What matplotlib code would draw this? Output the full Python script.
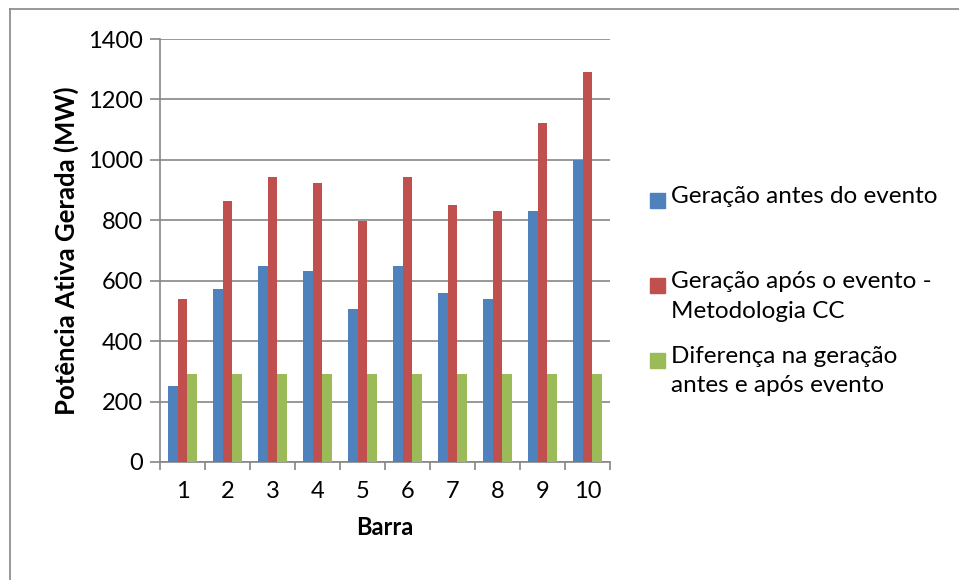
import numpy as np
import matplotlib.pyplot as plt
from matplotlib.patches import Rectangle
from matplotlib.lines import Line2D

plt.rcParams['font.family'] = ['Lato', 'DejaVu Sans']

barras = ['1', '2', '3', '4', '5', '6', '7', '8', '9', '10']
antes = [250, 574, 650, 633, 508, 650, 560, 540, 830, 1000]
apos = [541, 863, 942, 923, 798, 942, 852, 831, 1121, 1292]
diferenca = [290, 290, 290, 290, 290, 290, 290, 290, 290, 290]

nomes = ['Geração antes do evento',
         'Geração após o evento -\nMetodologia CC',
         'Diferença na geração\nantes e após evento']
cores = ['#4F81BD', '#C0504D', '#9BBB59']

fs = 17

fig = plt.figure(figsize=(9.59, 5.8), dpi=100)
ax = fig.add_axes([160 / 959, 1 - 462 / 580, 450 / 959, 423 / 580])

x = np.arange(1, len(barras) + 1)
w = 0.215
for i, (vals, cor) in enumerate(zip([antes, apos, diferenca], cores)):
    ax.bar(x + (i - 1) * w, vals, w, color=cor, zorder=3)

ax.set_xlim(0.5, 10.5)
ax.set_ylim(0, 1400)
ax.set_yticks(range(0, 1401, 200))
ax.yaxis.grid(True, color='#868686', linewidth=1.2, zorder=0)

# category labels in the middle, tick marks between groups
ax.set_xticks(x)
ax.set_xticklabels(barras)
ax.set_xticks(np.arange(0.5, 11, 1), minor=True)
ax.tick_params(axis='x', which='major', length=0, pad=14, labelsize=fs)
ax.tick_params(axis='x', which='minor', length=6, width=1.2, color='#868686')
ax.tick_params(axis='y', length=7, width=1.2, color='#868686', labelsize=fs, pad=5)

for s in ['top', 'right']:
    ax.spines[s].set_visible(False)
for s in ['left', 'bottom']:
    ax.spines[s].set_color('#868686')
    ax.spines[s].set_linewidth(1.2)

ax.set_ylabel('Potência Ativa Gerada (MW)', fontsize=18.5, fontweight='bold', labelpad=7)
ax.set_xlabel('Barra', fontsize=fs, fontweight='bold', labelpad=10)

# legend on the right side
leg_y = [200, 285, 360]
for nome, cor, yy in zip(nomes, cores, leg_y):
    fig.patches.append(Rectangle((650 / 959, 1 - (yy + 8) / 580), 15 / 959, 15 / 580,
                                 transform=fig.transFigure, color=cor))
    fig.text(671 / 959, 1 - (yy - 14) / 580, nome, fontsize=17.5, va='top',
             linespacing=1.5)

# chart border (left and top edges inside the image)
fig.lines.append(Line2D([9.5 / 959, 9.5 / 959], [0, 1 - 9 / 580],
                        transform=fig.transFigure, color='#868686', linewidth=1.2))
fig.lines.append(Line2D([9.5 / 959, 1], [1 - 9 / 580, 1 - 9 / 580],
                        transform=fig.transFigure, color='#868686', linewidth=1.2))

fig.savefig('out.png', dpi=100)
